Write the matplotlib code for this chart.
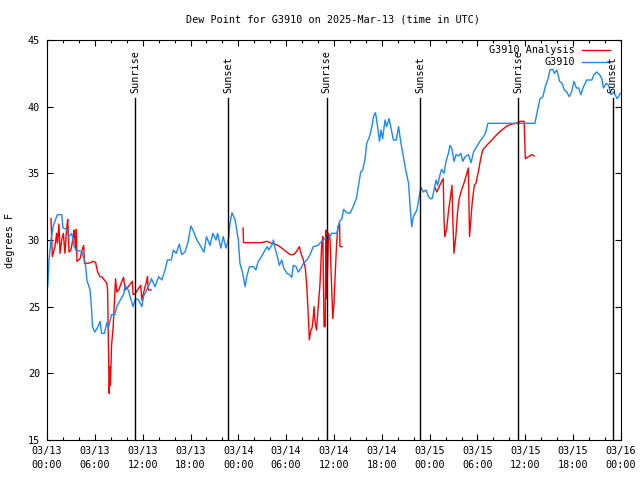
import matplotlib
matplotlib.use("Agg")
import matplotlib.pyplot as plt
import numpy as np

plt.rcParams["font.family"] = "DejaVu Sans Mono"
plt.rcParams["font.size"] = 7.3

# hours since 2025-03-13 00:00 UTC
obs_hours = [
    0.1, 0.25, 0.5, 0.8, 1.3, 1.85, 2.0, 2.5, 2.7, 3.1, 3.4, 3.7, 4.35, 4.8, 5.0,
    5.4, 5.6, 5.7, 6.0, 6.4, 6.65, 6.85, 7.2, 7.5, 7.7, 8.1, 8.5, 8.75, 9.2, 9.6,
    9.8, 10.2, 10.5, 10.8, 11.1, 11.5, 11.9, 12.1, 12.5, 12.9, 13.1, 13.55, 14.0,
    14.4, 14.8, 15.1, 15.6, 15.85, 16.2, 16.6, 16.9, 17.3, 17.65, 18.05, 18.3,
    18.5, 18.8, 19.2, 19.7, 20.0, 20.45, 20.8, 21.2, 21.4, 21.8, 22.1, 22.45,
    22.75, 22.95, 23.2, 23.6, 24.0, 24.2, 24.55, 24.85, 25.05, 25.4, 25.9, 26.2,
    26.5, 26.9, 27.35, 27.65, 27.8, 28.2, 28.4, 28.6, 28.9, 29.15, 29.45, 29.7,
    30.1, 30.4, 30.7, 30.9, 31.25, 31.5, 31.9, 32.15, 32.6, 33.0, 33.4, 34.0,
    34.45, 34.9, 35.5, 35.7, 36.35, 36.7, 37.0, 37.2, 37.6, 38.0, 38.4, 38.8,
    39.05, 39.35, 39.6, 39.9, 40.1, 40.45, 40.75, 40.95, 41.2, 41.45, 41.7, 41.9,
    42.1, 42.4, 42.6, 42.9, 43.1, 43.45, 43.8, 44.1, 44.4, 44.7, 45.0, 45.35,
    45.55, 45.75, 45.95, 46.4, 46.7, 46.9, 47.2, 47.55, 47.85, 48.05, 48.3,
    48.55, 48.8, 49.0, 49.3, 49.5, 49.8, 50.05, 50.35, 50.55, 50.8, 51.05, 51.3,
    51.6, 51.9, 52.15, 52.45, 52.85, 53.2, 53.5, 53.9, 54.3, 54.75, 55.05, 55.3,
    61.2, 61.45, 61.85, 62.2, 62.5, 62.8, 63.1, 63.45, 63.65, 63.95, 64.3, 64.6,
    64.9, 65.2, 65.5, 65.8, 66.1, 66.4, 66.7, 66.95, 67.3, 67.7, 68.35, 68.6,
    68.95, 69.3, 69.6, 69.8, 70.15, 70.45, 70.75, 71.1, 71.5, 71.7, 71.9,
]
obs_dewpt = [
    26.5, 28.5, 30.0, 31.1, 31.9, 31.9, 30.9, 30.8, 30.25, 30.5, 29.5, 29.25, 29.1,
    28.3, 27.0, 26.25, 24.75, 23.5, 23.1, 23.5, 23.9, 23.0, 23.0, 23.8, 23.4, 24.4,
    24.4, 25.0, 25.5, 25.9, 26.6, 26.25, 25.6, 25.0, 25.6, 25.5, 25.0, 25.75,
    26.25, 26.75, 27.1, 26.5, 27.25, 27.0, 27.75, 28.5, 28.5, 29.25, 29.0, 29.7,
    28.9, 29.1, 29.75, 31.05, 30.75, 30.45, 30.0, 29.6, 29.1, 30.25, 29.6, 30.5,
    30.0, 30.5, 29.4, 30.25, 29.4, 30.0, 31.25, 32.05, 31.5, 30.0, 28.25, 27.5,
    26.5, 27.25, 28.0, 28.0, 27.75, 28.4, 28.75, 29.25, 29.5, 29.25, 29.6, 30.0,
    29.4, 28.75, 28.1, 28.5, 27.9, 27.5, 27.4, 27.2, 28.1, 28.0, 27.6, 27.9,
    28.25, 28.5, 28.9, 29.5, 29.6, 29.9, 30.1, 30.25, 30.5, 30.5, 31.4, 31.6,
    32.3, 32.05, 32.0, 32.5, 33.1, 34.0, 35.1, 35.25, 36.1, 37.25, 37.75, 38.5,
    39.25, 39.55, 38.6, 37.4, 38.25, 37.6, 39.0, 38.5, 39.1, 38.55, 37.5, 37.5,
    38.5, 37.25, 36.25, 35.25, 34.25, 32.5, 31.0, 31.75, 32.25, 33.25, 33.95,
    33.6, 33.75, 33.25, 33.1, 33.1, 33.75, 34.5, 34.1, 34.9, 35.3, 35.0, 35.9,
    36.5, 37.1, 36.8, 35.9, 36.4, 36.3, 36.5, 35.9, 36.25, 36.4, 35.8, 36.6,
    37.0, 37.4, 37.75, 38.1, 38.75, 38.75, 39.5, 40.6, 40.75, 41.5, 42.0, 42.75,
    42.8, 42.5, 42.75, 41.9, 41.75, 41.25, 41.1, 40.75, 41.1, 41.9, 41.4, 41.4,
    40.9, 41.5, 42.0, 42.0, 42.4, 42.6, 42.4, 42.1, 41.4, 41.75, 41.6, 40.9,
    41.1, 40.6, 40.75, 41.0,
]

# analysis series, None marks a gap
ana_hours = [
    0.5, 0.67, 1.0, 1.2, 1.3, 1.5, 1.63, 1.84, 2.05, 2.25, 2.47, 2.6, 2.76, 3.0,
    3.3, 3.4, 3.6, 3.68, 3.76, 4.15, 4.4, 4.6, 4.7, 5.2, 5.8, 6.1, 6.35, 6.65,
    6.95, 7.2, 7.5, 7.6, 7.7, 7.8, 7.9, 7.95, 8.1, 8.3, 8.45, 8.6, 8.75, 9.0, 9.3,
    9.6, 9.8, 10.2, 10.7, 10.8, 11.1, 11.5, 11.75, 11.9, 12.1, 12.3, 12.5, 12.6,
    12.7, 13.05, None,
    24.6, 24.65, 26.9, 27.55, 28.2, 28.6, 29.2, 29.85, 30.5, 30.9, 31.25, 31.65,
    31.8, 32.1, 32.4, 32.6, 32.8, 32.9, 33.1, 33.25, 33.4, 33.5, 33.6, 33.8, 33.95,
    34.05, 34.25, 34.45, 34.6, 34.75, 34.9, 35.0, 35.1, 35.3, 35.5, 35.7, 35.85,
    36.0, 36.2, 36.35, 36.5, 36.7, 36.75, 37.0, None,
    48.7, 48.9, 49.2, 49.5, 49.7, 49.8, 49.9, 50.15, 50.35, 50.65, 50.8, 50.9,
    51.05, 51.3, 51.5, 51.7, 52.0, 52.3, 52.65, 52.85, 53.0, 53.15, 53.35, 53.6,
    53.8, 54.1, 54.4, 54.65, 55.15, 55.8, 56.4, 57.05, 57.7, 58.3, 58.9, 59.35,
    59.85, 60.0, 60.4, 60.8, 61.1,
]
ana_dewpt = [
    31.6, 28.75, 29.5, 30.5, 29.75, 31.2, 29.0, 30.0, 30.5, 29.0, 30.9, 31.55,
    29.1, 29.25, 30.25, 30.75, 29.25, 30.8, 28.4, 28.6, 29.25, 29.6, 28.25, 28.25,
    28.4, 28.3, 27.6, 27.25, 27.2, 27.0, 26.75, 26.25, 22.1, 18.5, 20.5, 19.1,
    22.1, 23.5, 25.25, 27.1, 26.1, 26.25, 26.75, 27.2, 26.25, 26.5, 26.9, 25.9,
    26.0, 26.4, 26.6, 25.5, 26.0, 26.5, 26.9, 27.25, 26.25, 26.25, None,
    30.9, 29.8, 29.8, 29.9, 29.75, 29.7, 29.5, 29.2, 28.9, 28.9, 29.1, 29.5, 29.1,
    28.6, 27.9, 26.4, 24.0, 22.5, 23.25, 23.4, 24.25, 25.0, 24.0, 23.25, 24.4,
    25.1, 26.75, 29.6, 30.25, 23.5, 23.5, 30.75, 25.6, 30.5, 30.1, 26.5, 24.1,
    25.25, 28.1, 30.0, 31.0, 31.25, 29.5, 29.5, None,
    33.9, 33.6, 34.0, 34.4, 34.6, 31.6, 30.25, 30.9, 32.1, 33.4, 34.1, 31.6, 29.0,
    30.4, 32.1, 33.1, 33.75, 34.25, 35.0, 35.4, 30.25, 31.4, 32.9, 34.1, 34.25,
    35.1, 36.1, 36.75, 37.1, 37.5, 37.9, 38.25, 38.55, 38.7, 38.75, 38.9, 38.9,
    36.1, 36.25, 36.4, 36.3,
]

sun_hours = [11.08, 22.75, 35.07, 46.8, 59.1, 70.95]
sun_names = ["Sunrise", "Sunset", "Sunrise", "Sunset", "Sunrise", "Sunset"]

tick_hours = list(range(0, 73, 6))
tick_labels = [
    "03/13\n00:00", "03/13\n06:00", "03/13\n12:00", "03/13\n18:00",
    "03/14\n00:00", "03/14\n06:00", "03/14\n12:00", "03/14\n18:00",
    "03/15\n00:00", "03/15\n06:00", "03/15\n12:00", "03/15\n18:00",
    "03/16\n00:00",
]

fig = plt.figure(figsize=(6.4, 4.8), dpi=100)
ax = fig.add_axes([47 / 640, 40 / 480, 574 / 640, 400 / 480])

ax.plot(np.array(ana_hours, dtype=float), np.array(ana_dewpt, dtype=float),
        color="#ff0000", linewidth=1)
ax.plot(obs_hours, obs_dewpt, color="#1a88ff", linewidth=1)

for h, name in zip(sun_hours, sun_names):
    ax.plot([h, h], [15, 40.65], color="black", linewidth=1)
    ax.text(h, 41.0, name, rotation=90, ha="center", va="bottom")

# legend drawn gnuplot style: text right-aligned, sample to the right
ax.text(0.92, 0.975, "G3910 Analysis", transform=ax.transAxes,
        ha="right", va="center")
ax.plot([0.932, 0.981], [0.975, 0.975], color="#ff0000", linewidth=1,
        transform=ax.transAxes)
ax.text(0.92, 0.944, "G3910", transform=ax.transAxes, ha="right", va="center")
ax.plot([0.932, 0.981], [0.944, 0.944], color="#1a88ff", linewidth=1,
        transform=ax.transAxes)

ax.set_xlim(0, 72)
ax.set_ylim(15, 45)
ax.set_xticks(tick_hours)
ax.set_xticklabels(tick_labels, linespacing=1.55)
ax.set_xticks(np.arange(0, 73, 2), minor=True)
ax.set_yticks(np.arange(15, 46, 5))
ax.tick_params(which="both", direction="in", top=True, right=True, width=0.8)
ax.tick_params(which="major", length=4.5)
ax.tick_params(which="minor", length=2.5)
ax.tick_params(axis="x", pad=4)
ax.tick_params(axis="y", pad=5)

fig.text(0.52, 1 - 19 / 480, "Dew Point for G3910 on 2025-Mar-13 (time in UTC)",
         ha="center", va="center")
fig.text(10 / 640, 0.5, "degrees F", rotation=90, ha="center", va="center")

fig.savefig("out.png", dpi=100)
